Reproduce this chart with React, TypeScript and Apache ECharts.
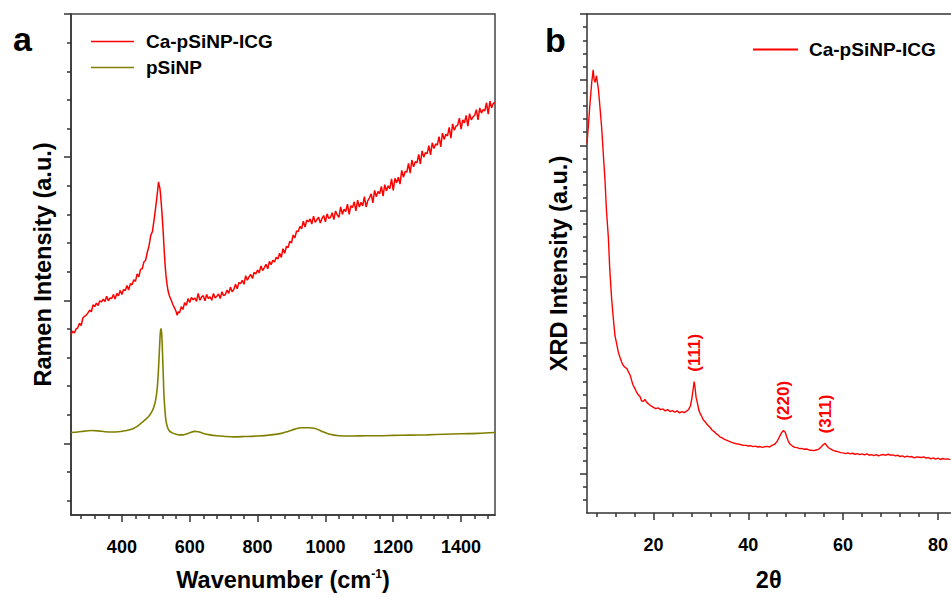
import { useEffect, useRef } from 'react';
import * as echarts from 'echarts';

const FONT = 'Arial, "Liberation Sans", Helvetica, sans-serif';

// ---------- Panel a: Raman ----------
const ramanTickLabels = [400, 600, 800, 1000, 1200, 1400];
const ramanMinorTicks = [280, 320, 360, 440, 480, 520, 560, 640, 680, 720, 760, 840, 880, 920, 960, 1040, 1080, 1120, 1160, 1240, 1280, 1320, 1360, 1440, 1480];
const ramanYMajor = [0, 500, 1000, 1500];
const ramanYMinor = [-200, -100, 100, 200, 300, 400, 600, 700, 800, 900, 1100, 1200, 1300, 1400];

const ramanCaPSiNPICG = [
  [250,380],[255,392],[260,386],[265,400],[270,404],[275,420],[280,412],[285,438],[290,444],[295,448],[300,456],[305,466],[310,460],[315,484],[320,478],[325,490],[330,482],[335,498],[340,494],[345,504],[350,496],[355,514],[360,498],[365,508],[370,506],[375,520],[380,504],[385,524],[390,516],[395,534],[400,520],[405,538],[410,534],[415,552],[420,536],[425,558],[430,554],[435,572],[440,566],[445,592],[450,582],[455,608],[460,610],[465,634],[470,640],[475,668],[480,690],[485,726],[490,740],[495,782],[500,828],[503,858],[506,890],[508,914],[510,900],[512,892],[514,870],[516,840],[518,808],[520,772],[522,735],[524,690],[526,650],[528,615],[530,586],[533,556],[536,534],[540,516],[545,502],[550,486],[555,474],[560,460],[563,448],[566,460],[570,456],[575,478],[580,468],[585,492],[590,482],[595,506],[600,492],[605,510],[610,502],[615,508],[620,496],[625,524],[630,500],[635,512],[640,516],[645,498],[650,520],[655,506],[660,512],[665,500],[670,524],[675,508],[680,514],[685,522],[690,506],[695,530],[700,516],[705,520],[710,536],[715,524],[720,546],[725,530],[730,538],[735,556],[740,540],[745,562],[750,558],[755,570],[760,556],[765,586],[770,570],[775,582],[780,590],[785,576],[790,598],[795,592],[800,606],[805,596],[810,620],[815,604],[820,614],[825,626],[830,610],[835,636],[840,624],[845,640],[850,634],[855,650],[860,644],[865,664],[870,650],[875,680],[880,664],[885,688],[890,684],[895,706],[900,700],[905,728],[910,718],[915,742],[920,740],[925,758],[930,750],[935,776],[940,756],[945,780],[950,774],[955,784],[960,766],[965,794],[970,772],[975,782],[980,790],[985,770],[990,786],[995,796],[1000,774],[1005,802],[1010,786],[1015,790],[1020,806],[1025,782],[1030,812],[1035,798],[1040,790],[1045,826],[1050,800],[1055,818],[1060,810],[1065,836],[1070,800],[1075,830],[1080,824],[1085,844],[1090,812],[1095,850],[1100,826],[1105,842],[1110,830],[1115,862],[1120,826],[1125,848],[1130,858],[1135,872],[1140,840],[1145,884],[1150,862],[1155,880],[1160,872],[1165,898],[1170,864],[1175,904],[1180,882],[1185,900],[1190,890],[1195,924],[1200,884],[1205,926],[1210,910],[1215,930],[1220,906],[1225,954],[1230,930],[1235,950],[1240,948],[1245,978],[1250,944],[1255,990],[1260,966],[1265,984],[1270,980],[1275,1010],[1280,976],[1285,1022],[1290,1000],[1295,1016],[1300,1012],[1305,1040],[1310,1008],[1315,1050],[1320,1030],[1325,1046],[1330,1042],[1335,1072],[1340,1036],[1345,1084],[1350,1062],[1355,1080],[1360,1074],[1365,1104],[1370,1066],[1375,1116],[1380,1094],[1385,1108],[1390,1112],[1395,1136],[1400,1098],[1405,1130],[1410,1120],[1415,1146],[1420,1108],[1425,1152],[1430,1130],[1435,1140],[1440,1146],[1445,1166],[1450,1130],[1455,1172],[1460,1154],[1465,1166],[1470,1162],[1475,1190],[1480,1150],[1485,1196],[1490,1172],[1495,1188],[1500,1190]
];

const ramanPSiNP = [
  [250,38],[270,40],[290,43],[310,45],[330,44],[350,41],[370,40],[390,41],[410,44],[430,50],[440,56],[450,64],[460,74],[470,84],[480,96],[490,115],[495,130],[500,155],[504,190],[507,240],[510,310],[512,360],[514,395],[516,400],[518,370],[520,310],[522,240],[524,170],[527,115],[530,80],[535,55],[540,44],[550,36],[560,32],[570,30],[580,30],[590,33],[600,37],[615,42],[625,41],[640,35],[660,30],[680,27],[700,25],[730,23],[760,24],[800,26],[840,30],[870,35],[890,42],[910,50],[930,55],[950,55],[970,52],[990,42],[1010,33],[1040,27],[1080,26],[1120,27],[1160,27],[1200,28],[1250,29],[1300,30],[1350,32],[1400,34],[1450,35],[1500,38]
];

// ---------- Panel b: XRD ----------
const xrdTickLabels = [20, 40, 60, 80];
const xrdMinorTicks = [8, 12, 16, 24, 28, 32, 36, 44, 48, 52, 56, 64, 68, 72, 76];
const xrdYMajor = [0, 1000, 2000, 3000, 4000, 5000, 6000, 7000];
const xrdYMinor = [-400, -200, 200, 400, 600, 800, 1200, 1400, 1600, 1800, 2200, 2400, 2600, 2800, 3200, 3400, 3600, 3800, 4200, 4400, 4600, 4800, 5200, 5400, 5600, 5800, 6200, 6400, 6600, 6800];

const xrdCaPSiNPICG = [
  [6.0,5030],[6.3,5310],[6.6,5610],[7.0,5960],[7.3,6150],[7.5,6000],[7.7,5960],[8.0,6060],[8.2,5950],[8.4,5860],[8.7,5610],[9.1,5260],[9.4,4910],[9.8,4460],[10.1,4010],[10.5,3600],[10.8,3110],[11.2,2660],[11.5,2400],[11.9,2100],[12.3,1960],[12.6,1850],[13.0,1760],[13.3,1700],[13.6,1650],[14.0,1620],[14.4,1600],[14.8,1540],[15.1,1500],[15.4,1420],[15.7,1350],[16.0,1310],[16.4,1250],[16.8,1200],[17.2,1170],[17.5,1110],[17.9,1100],[18.2,1130],[18.6,1085],[19.0,1060],[19.5,1030],[20.0,1010],[20.5,990],[21.0,1000],[21.5,975],[22.0,985],[22.5,955],[23.0,975],[23.5,945],[24.0,960],[24.5,935],[25.0,955],[25.5,925],[26.0,945],[26.5,930],[27.0,950],[27.4,975],[27.8,1030],[28.1,1140],[28.4,1300],[28.6,1400],[28.8,1300],[29.0,1160],[29.3,1070],[29.6,960],[29.9,910],[30.2,870],[30.5,820],[30.9,790],[31.2,760],[31.6,730],[32.0,700],[32.4,660],[32.8,640],[33.2,610],[33.6,590],[34.0,560],[34.5,545],[35.0,520],[35.5,505],[36.0,490],[36.5,475],[37.0,465],[37.5,455],[38.0,450],[38.5,440],[39.0,430],[39.5,430],[40.0,420],[40.5,425],[41.0,410],[41.5,418],[42.0,405],[42.5,412],[43.0,400],[43.5,410],[44.0,415],[44.5,405],[45.0,430],[45.5,445],[46.0,480],[46.5,550],[47.0,620],[47.4,655],[47.8,630],[48.1,560],[48.4,500],[48.8,450],[49.3,420],[49.8,400],[50.3,395],[50.8,380],[51.3,385],[51.8,370],[52.3,375],[52.8,360],[53.3,355],[53.8,350],[54.3,360],[54.8,370],[55.3,400],[55.8,440],[56.2,460],[56.6,420],[57.0,390],[57.5,370],[58.0,350],[58.5,340],[59.0,330],[59.5,320],[60.0,315],[60.5,305],[61.0,315],[61.5,300],[62.0,310],[62.5,295],[63.0,305],[63.5,290],[64.0,300],[64.5,285],[65.0,300],[65.5,280],[66.0,290],[66.5,275],[67.0,290],[67.5,270],[68.0,285],[68.5,290],[69.0,280],[69.5,295],[70.0,280],[70.5,285],[71.0,270],[71.5,280],[72.0,260],[72.5,270],[73.0,250],[73.5,265],[74.0,255],[74.5,260],[75.0,240],[75.5,255],[76.0,250],[76.5,245],[77.0,255],[77.5,235],[78.0,245],[78.5,225],[79.0,240],[79.5,220],[80.0,235],[80.5,215],[81.0,230],[81.5,220],[82.0,225],[82.6,212]
];

const xrdPeakLabels = ['(111)', '(220)', '(311)'];
const xrdPeakPositions = [[28.6, 1400], [47.4, 655], [56.2, 460]];

const AXIS_COLOR = '#333';
const RED = '#ff0000';
const OLIVE = '#808000';

function mainAxis(extra: any) {
  return {
    type: 'value',
    splitLine: { show: false },
    axisLine: { show: true, onZero: false, lineStyle: { color: AXIS_COLOR, width: 1.5 } },
    axisTick: { show: true, length: 7, lineStyle: { color: AXIS_COLOR, width: 1.5 } },
    axisLabel: { show: false },
    ...extra,
  };
}
function minorAxis(extra: any, values: number[]) {
  return {
    type: 'value',
    splitLine: { show: false },
    axisLine: { show: false, onZero: false },
    axisTick: { show: true, length: 4, customValues: values, lineStyle: { color: AXIS_COLOR, width: 1.5 } },
    axisLabel: { show: false },
    ...extra,
  };
}

const labelStyle = { color: '#000', fontFamily: FONT, fontWeight: 'bold', fontSize: 18, margin: 23, formatter: (v: number) => String(v) };
const nameStyle = { color: '#000', fontFamily: FONT, fontWeight: 'bold', fontSize: 23.5 };
const legendText = { color: '#000', fontFamily: FONT, fontWeight: 'bold', fontSize: 19 };

export default function App() {
  const ref = useRef<HTMLDivElement>(null);
  useEffect(() => {
    const chart = echarts.init(ref.current!, null, { renderer: 'svg' });
    const option: any = {
      animation: false,
      backgroundColor: '#fff',
      grid: [
        { left: 71, top: 14, width: 424, height: 508, show: true, borderColor: '#444', borderWidth: 1.5, backgroundColor: 'transparent' },
        { left: 587, top: 14, width: 364, height: 506, show: false },
      ],
      xAxis: [
        mainAxis({
          gridIndex: 0, min: 250, max: 1500, position: 'bottom',
          axisTick: { show: true, length: 7, customValues: ramanTickLabels, lineStyle: { color: AXIS_COLOR, width: 1.5 } },
          axisLabel: { show: true, customValues: ramanTickLabels, ...labelStyle },
          name: 'Wavenumber (cm{sup|-1})', nameLocation: 'middle', nameGap: 53,
          nameTextStyle: { ...nameStyle, rich: { sup: { fontFamily: FONT, fontWeight: 'bold', fontSize: 12, color: '#000', verticalAlign: 'top', padding: [0, 0, 8, 0] } } },
        }),
        minorAxis({ gridIndex: 0, min: 250, max: 1500, position: 'bottom' }, ramanMinorTicks),
        mainAxis({
          gridIndex: 1, min: 6, max: 82.63, position: 'bottom',
          axisTick: { show: true, length: 7, customValues: xrdTickLabels, lineStyle: { color: AXIS_COLOR, width: 1.5 } },
          axisLabel: { show: true, customValues: xrdTickLabels, ...labelStyle },
          name: '2θ', nameLocation: 'middle', nameGap: 55,
          nameTextStyle: nameStyle,
        }),
        minorAxis({ gridIndex: 1, min: 6, max: 82.63, position: 'bottom' }, xrdMinorTicks),
        {
          type: 'value', gridIndex: 1, min: 6, max: 82.63, position: 'top',
          splitLine: { show: false }, axisTick: { show: false }, axisLabel: { show: false },
          axisLine: { show: true, onZero: false, lineStyle: { color: AXIS_COLOR, width: 1.5 } },
        },
      ],
      yAxis: [
        mainAxis({
          gridIndex: 0, min: -250, max: 1500, position: 'left',
          axisTick: { show: true, length: 7, customValues: ramanYMajor, lineStyle: { color: AXIS_COLOR, width: 1.5 } },
          name: 'Ramen Intensity (a.u.)', nameLocation: 'middle', nameGap: 16, nameRotate: 90,
          nameTextStyle: nameStyle,
        }),
        minorAxis({ gridIndex: 0, min: -250, max: 1500, position: 'left' }, ramanYMinor),
        mainAxis({
          gridIndex: 1, min: -600, max: 7000, position: 'left',
          axisTick: { show: true, length: 7, customValues: xrdYMajor, lineStyle: { color: AXIS_COLOR, width: 1.5 } },
          name: 'XRD Intensity (a.u.)', nameLocation: 'middle', nameGap: 16, nameRotate: 90,
          nameTextStyle: nameStyle,
        }),
        minorAxis({ gridIndex: 1, min: -600, max: 7000, position: 'left' }, xrdYMinor),
      ],
      legend: [
        {
          data: ['Ca-pSiNP-ICG', 'pSiNP'], orient: 'vertical', left: 86, top: 27,
          icon: 'rect', itemWidth: 43, itemHeight: 1.5, itemGap: 7, selectedMode: false,
          textStyle: { ...legendText, padding: [0, 0, 0, 7] },
        },
        {
          data: ['Ca-pSiNP-ICG'], orient: 'vertical', left: 748, top: 35,
          icon: 'rect', itemWidth: 45, itemHeight: 2, itemGap: 6, selectedMode: false,
          textStyle: { ...legendText, padding: [0, 0, 0, 6] },
        },
      ],
      series: [
        {
          name: 'Ca-pSiNP-ICG', type: 'line', xAxisIndex: 0, yAxisIndex: 0, data: ramanCaPSiNPICG,
          symbol: 'none', color: RED, lineStyle: { color: RED, width: 1.5 },
        },
        {
          name: 'pSiNP', type: 'line', xAxisIndex: 0, yAxisIndex: 0, data: ramanPSiNP,
          symbol: 'none', smooth: 0.3, color: OLIVE, lineStyle: { color: OLIVE, width: 1.6 },
        },
        {
          name: 'Ca-pSiNP-ICG', type: 'line', xAxisIndex: 2, yAxisIndex: 2, data: xrdCaPSiNPICG,
          symbol: 'none', color: RED, lineStyle: { color: RED, width: 1.4 },
        },
      ],
    };
    chart.setOption(option);

    const elements: any[] = [
      { type: 'text', x: 13, y: 39, style: { text: 'a', fill: '#000', fontFamily: FONT, fontWeight: 'bold', fontSize: 34, align: 'left', verticalAlign: 'middle' } },
      { type: 'text', x: 545, y: 40, style: { text: 'b', fill: '#000', fontFamily: FONT, fontWeight: 'bold', fontSize: 34, align: 'left', verticalAlign: 'middle' } },
    ];
    xrdPeakPositions.forEach((p, i) => {
      const pt = chart.convertToPixel({ xAxisIndex: 2, yAxisIndex: 2 }, p) as number[];
      if (!pt) return;
      elements.push({
        type: 'text', x: pt[0], y: pt[1] - 10, rotation: Math.PI / 2,
        style: { text: xrdPeakLabels[i], fill: RED, fontFamily: FONT, fontWeight: 'bold', fontSize: 17, align: 'left', verticalAlign: 'middle' },
      });
    });
    chart.setOption({ graphic: { elements } });
    return () => chart.dispose();
  }, []);
  return <div ref={ref} style={{ position: 'fixed', left: 0, top: 0, width: 951, height: 597, background: '#fff' }} />;
}
